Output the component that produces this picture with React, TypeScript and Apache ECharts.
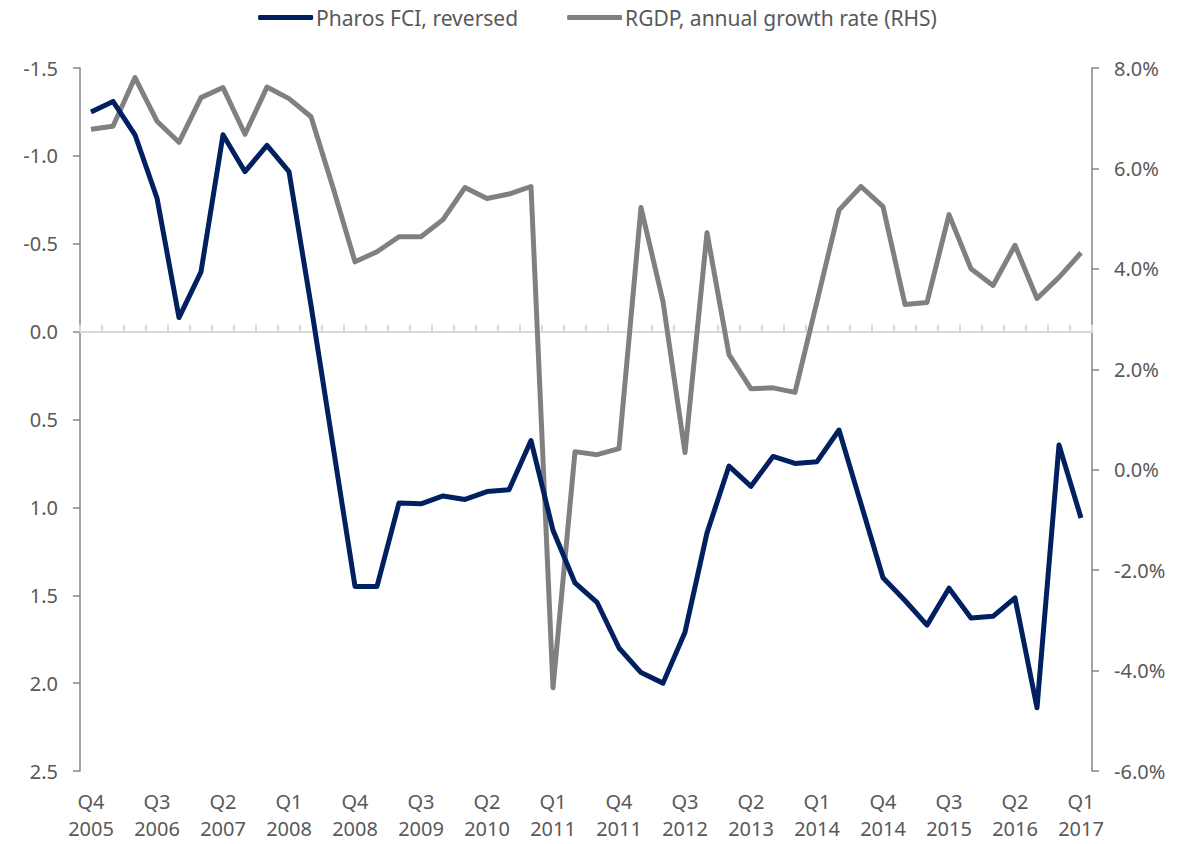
import React, { useEffect, useRef } from "react";
import * as echarts from "echarts";

const quarters: string[] = [
  "Q4\n2005", "Q1\n2006", "Q2\n2006", "Q3\n2006", "Q4\n2006",
  "Q1\n2007", "Q2\n2007", "Q3\n2007", "Q4\n2007",
  "Q1\n2008", "Q2\n2008", "Q3\n2008", "Q4\n2008",
  "Q1\n2009", "Q2\n2009", "Q3\n2009", "Q4\n2009",
  "Q1\n2010", "Q2\n2010", "Q3\n2010", "Q4\n2010",
  "Q1\n2011", "Q2\n2011", "Q3\n2011", "Q4\n2011",
  "Q1\n2012", "Q2\n2012", "Q3\n2012", "Q4\n2012",
  "Q1\n2013", "Q2\n2013", "Q3\n2013", "Q4\n2013",
  "Q1\n2014", "Q2\n2014", "Q3\n2014", "Q4\n2014",
  "Q1\n2015", "Q2\n2015", "Q3\n2015", "Q4\n2015",
  "Q1\n2016", "Q2\n2016", "Q3\n2016", "Q4\n2016",
  "Q1\n2017",
];

const fciReversed: number[] = [
  -1.25, -1.31, -1.12, -0.76, -0.08,
  -0.34, -1.12, -0.91, -1.06,
  -0.91, -0.15, 0.65, 1.45,
  1.45, 0.975, 0.98, 0.935,
  0.955, 0.91, 0.9, 0.62,
  1.13, 1.43, 1.54, 1.8,
  1.94, 2.0, 1.71, 1.145,
  0.765, 0.88, 0.71, 0.75,
  0.74, 0.56, 0.98, 1.4,
  1.53, 1.67, 1.46, 1.63,
  1.62, 1.515, 2.14, 0.645,
  1.06,
];

const rgdpGrowth: number[] = [
  6.78, 6.84, 7.81, 6.94, 6.52,
  7.41, 7.61, 6.68, 7.62,
  7.39, 7.03, 5.62, 4.14,
  4.34, 4.64, 4.64, 4.98,
  5.62, 5.4, 5.49, 5.64,
  -4.34, 0.36, 0.3, 0.42,
  5.22, 3.35, 0.34, 4.72,
  2.29, 1.61, 1.63, 1.54,
  3.35, 5.17, 5.64, 5.24,
  3.29, 3.33, 5.08, 4.0,
  3.67, 4.47, 3.41, 3.83,
  4.32,
];

const seriesNames: string[] = ["Pharos FCI, reversed", "RGDP, annual growth rate (RHS)"];

const FONT = "'Noto Sans', sans-serif";
const TEXT = "#595959";
const AXIS = "#868686";
const AXIS_FS = 20;

export default function App() {
  const ref = useRef<HTMLDivElement>(null);
  useEffect(() => {
    if (!ref.current) return;
    const chart = echarts.init(ref.current, null, { renderer: "svg" });
    chart.setOption({
      animation: false,
      backgroundColor: "#ffffff",
      textStyle: { fontFamily: FONT },
      legend: {
        top: 2,
        left: "center",
        icon: "roundRect",
        itemWidth: 55,
        itemHeight: 5,
        itemGap: 49,
        textStyle: { fontFamily: FONT, fontSize: 21, color: TEXT, padding: [0, 0, 0, -2] },
        data: seriesNames,
      },
      grid: { left: 80, right: 103, top: 68, bottom: 73, containLabel: false },
      xAxis: [
        {
          type: "category",
          data: quarters,
          position: "bottom",
          boundaryGap: true,
          axisLine: { show: true, onZero: true, onZeroAxisIndex: 0, lineStyle: { color: "#d9d9d9", width: 2 } },
          axisTick: { show: true, inside: true, interval: 0, length: 7, lineStyle: { color: "#d9d9d9", width: 2 } },
          axisLabel: { show: false },
          splitLine: { show: false },
        },
        {
          type: "category",
          data: quarters,
          position: "bottom",
          boundaryGap: true,
          axisLine: { show: false, onZero: false },
          axisTick: { show: false },
          axisLabel: {
            show: true,
            interval: 2,
            margin: 17,
            fontFamily: FONT,
            fontSize: AXIS_FS,
            lineHeight: 27,
            color: TEXT,
          },
          splitLine: { show: false },
        },
      ],
      yAxis: [
        {
          type: "value",
          position: "left",
          inverse: true,
          min: -1.5,
          max: 2.5,
          interval: 0.5,
          axisLine: { show: true, lineStyle: { color: AXIS, width: 1.5 } },
          axisTick: { show: true, length: 7, lineStyle: { color: AXIS, width: 1.5 } },
          axisLabel: {
            margin: 22,
            fontFamily: FONT,
            fontSize: AXIS_FS,
            color: TEXT,
            formatter: (v: number) => v.toFixed(1),
          },
          splitLine: { show: false },
        },
        {
          type: "value",
          position: "right",
          min: -6,
          max: 8,
          interval: 2,
          axisLine: { show: true, lineStyle: { color: AXIS, width: 1.5 } },
          axisTick: { show: true, length: 7, lineStyle: { color: AXIS, width: 1.5 } },
          axisLabel: {
            margin: 22,
            fontFamily: FONT,
            fontSize: AXIS_FS,
            color: TEXT,
            formatter: (v: number) => v.toFixed(1) + "%",
          },
          splitLine: { show: false },
        },
      ],
      series: [
        {
          name: seriesNames[0],
          type: "line",
          xAxisIndex: 0,
          yAxisIndex: 0,
          data: fciReversed,
          showSymbol: false,
          symbol: "none",
          lineStyle: { color: "#002060", width: 5, join: "round" },
          itemStyle: { color: "#002060" },
          z: 3,
        },
        {
          name: seriesNames[1],
          type: "line",
          xAxisIndex: 0,
          yAxisIndex: 1,
          data: rgdpGrowth,
          showSymbol: false,
          symbol: "none",
          lineStyle: { color: "#808080", width: 5, join: "round" },
          itemStyle: { color: "#808080" },
          z: 2,
        },
      ],
    });
    return () => chart.dispose();
  }, []);
  return (
    <div
      ref={ref}
      style={{ position: "fixed", left: 0, top: 0, width: 1195, height: 844, background: "#fff" }}
    />
  );
}
